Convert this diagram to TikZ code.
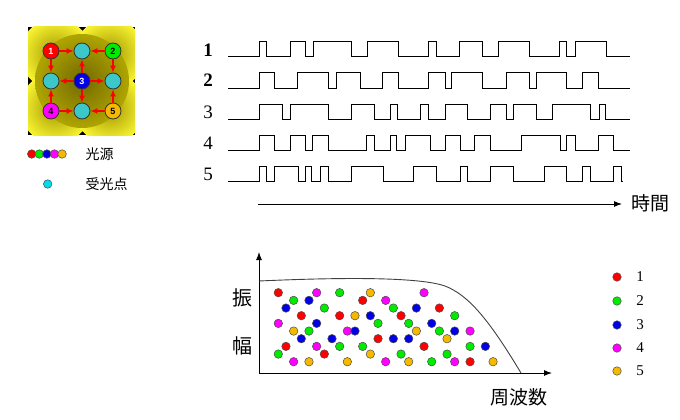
\documentclass[tikz,border=0pt]{standalone}
\usepackage{fontspec}
\setmainfont{Liberation Serif}
\setsansfont{Liberation Sans}
\newfontfamily\jpfont{Noto Sans CJK JP}
\usetikzlibrary{arrows.meta}

\definecolor{srcred}{RGB}{255,0,0}
\definecolor{srcgreen}{RGB}{0,235,0}
\definecolor{srcblue}{RGB}{0,0,230}
\definecolor{srcmagenta}{RGB}{255,0,255}
\definecolor{srcorange}{RGB}{245,185,0}
\definecolor{rcvcyan}{RGB}{60,200,200}
\definecolor{lgdcyan}{RGB}{0,220,235}
\definecolor{glowyellow}{RGB}{250,245,50}
\definecolor{glowolive}{RGB}{160,150,0}
\definecolor{diskdark}{RGB}{115,105,0}
\definecolor{diskrim}{RGB}{175,165,0}

% one pulse train: high y, low y, end x, edges
\newcommand{\pulsetrain}[4]{%
  \draw[wave] (228,#2) \foreach \x [count=\i] in {#4} { -| (\x,{isodd(\i)?#1:#2}) } -- (#3,#2);
}

\begin{document}
\begin{tikzpicture}[x=1pt,y=-1pt,
			source node/.style={circle,draw=black!80,line width=0.8pt,minimum size=16pt,inner sep=0pt,font=\sffamily\bfseries\fontsize{9}{9}\selectfont},
			sensor node/.style={circle,draw=black!80,line width=0.8pt,fill=rcvcyan,minimum size=16pt,inner sep=0pt},
			light/.style={-{Latex[length=7pt,width=6pt]},srcred,line width=1.5pt},
			dot node/.style={circle,draw=black!70,line width=0.5pt,minimum size=8.5pt,inner sep=0pt},
			wave/.style={line width=1pt},
			axis/.style={line width=1pt,-{Latex[length=8pt,width=6pt]}},
			wave label/.style={font=\fontsize{19}{19}\selectfont},
			jp/.style={font=\jpfont\fontsize{#1}{#1}\selectfont}
			]

			\useasboundingbox (0,0) rectangle (680,420);

			% lamp panel
			\begin{scope}
				\clip (28,27) rectangle (135,135);
				\fill[black] (28,27) rectangle (135,135);
				\foreach \cx/\cy in {55.5/54,109.5/54,55.5/108,109.5/108}
					\shade[inner color=glowolive,outer color=glowyellow] (\cx,\cy) circle (35.5);
				\shade[inner color=diskdark,outer color=diskrim] (82,81) circle (47);
			\end{scope}

			\node[source node,fill=srcred,text=white] (s1) at (51,51) {1};
			\node[source node,fill=srcgreen] (s2) at (113,51) {2};
			\node[source node,fill=srcblue,text=white] (s3) at (82,81) {3};
			\node[source node,fill=srcmagenta] (s4) at (51,111) {4};
			\node[source node,fill=srcorange] (s5) at (113,111) {5};
			\node[sensor node] (rt) at (82,51) {};
			\node[sensor node] (rl) at (51,81) {};
			\node[sensor node] (rr) at (113,81) {};
			\node[sensor node] (rb) at (82,111) {};

			\draw[light] (s1) -- (rt);
			\draw[light] (s1) -- (rl);
			\draw[light] (s2) -- (rt);
			\draw[light] (s2) -- (rr);
			\draw[light] (s3) -- (rt);
			\draw[light] (s3) -- (rl);
			\draw[light] (s3) -- (rr);
			\draw[light] (s3) -- (rb);
			\draw[light] (s4) -- (rl);
			\draw[light] (s4) -- (rb);
			\draw[light] (s5) -- (rr);
			\draw[light] (s5) -- (rb);

			% legend left
			\foreach \col [count=\i] in {srcred,srcgreen,srcblue,srcmagenta,srcorange}
				\node[dot node,fill=\col] (l\i) at ({24.1+7.6*\i},154) {};
			\node[jp=14,anchor=west] (srctext) at (82,154) {光源};
			\node[dot node,fill=lgdcyan] (lc) at (47.7,184) {};
			\node[jp=14,anchor=west] (rcvtext) at (82,184) {受光点};

			% pulse trains
			\node[wave label,font=\bfseries\fontsize{19}{19}\selectfont] (w1) at (208,50) {1};
			\node[wave label,font=\bfseries\fontsize{19}{19}\selectfont] (w2) at (208,80.5) {2};
			\node[wave label] (w3) at (208,112) {3};
			\node[wave label] (w4) at (208,143) {4};
			\node[wave label] (w5) at (208,174) {5};

			\pulsetrain{42}{57}{630}{259,266.7,290,305.7,313.3,351.7,367.7,398.3,428.3,436.7,459.3,482.7,498.3,529,559.3,566.7,575,606}
			\pulsetrain{73}{88}{630}{259,274.3,297.3,328.3,336,360,382.7,398.3,428.3,445,451.7,482.7,506,529,536,566.7,582.7,598.3}
			\pulsetrain{104}{119}{630}{259,282.3,290,328.3,351.7,374.3,390,397.3,420.7,428,445,467.7,490,506,513.3,536.7,552.7,590.7,599.3,605}
			\pulsetrain{135}{150}{630}{259.3,274,290,305,312.7,328.3,366.7,374,390,396.7,405,430,445,460,474.3,490,521.7,560,566.7,575,598.3,613.3}
			\pulsetrain{166}{181}{622}{259.3,266.7,274,298.3,305,311.7,320,328.3,351.7,383.3,413.3,436.7,460,467.7,490,513.3,544,566.7,582.7,590.7,613.3,621.7}

			% time axis
			\coordinate (tstart) at (258,204);
			\coordinate (tend) at (622,204);
			\draw[axis] (tstart) -- (tend);
			\node[jp=19,anchor=west] (timetext) at (628,203) {時間};

			% spectrum
			\coordinate (origin) at (259,373);
			\coordinate (ytop) at (259,252);
			\coordinate (xend) at (552,373);
			\draw[axis] (origin) -- (ytop);
			\draw[axis] (origin) -- (xend);
			\draw[black!75,line width=0.9pt] (259,281) .. controls (370,276) and (425,279) .. (445,286)
				.. controls (468,295) and (488,318) .. (521,373);

			\node[jp=20] (amp1) at (242,298) {振};
			\node[jp=20] (amp2) at (242,346) {幅};
			\node[jp=19] (freqtext) at (519,397) {周波数};

			\foreach \c/\r/\col [count=\i] in {
				0/0/srcred,5/0/srcmagenta,8/0/srcgreen,12/0/srcorange,19/0/srcmagenta,
				2/1/srcgreen,4/1/srcblue,11/1/srcred,14/1/srcmagenta,
				1/2/srcblue,6/2/srcgreen,15/2/srcgreen,18/2/srcblue,21/2/srcred,
				3/3/srcred,8/3/srcred,10/3/srcorange,12/3/srcblue,16/3/srcred,23/3/srcgreen,
				0/4/srcmagenta,5/4/srcblue,13/4/srcgreen,17/4/srcgreen,20/4/srcblue,
				2/5/srcorange,4/5/srcgreen,9/5/srcmagenta,10/5/srcblue,18/5/srcorange,21/5/srcgreen,23/5/srcblue,25/5/srcmagenta,
				3/6/srcblue,7/6/srcblue,13/6/srcred,15/6/srcblue,17/6/srcblue,22/6/srcorange,
				1/7/srcred,5/7/srcmagenta,8/7/srcgreen,11/7/srcgreen,19/7/srcred,25/7/srcgreen,27/7/srcblue,
				0/8/srcgreen,6/8/srcred,12/8/srcorange,16/8/srcgreen,22/8/srcgreen,
				2/9/srcmagenta,4/9/srcorange,9/9/srcorange,14/9/srcmagenta,17/9/srcorange,20/9/srcgreen,23/9/srcmagenta,25/9/srcred,28/9/srcorange}
				\node[dot node,fill=\col] (d\i) at ({278.3+7.67*\c},{292.7+7.67*\r}) {};

			% legend right
			\foreach \col/\y [count=\i] in {srcred/277,srcgreen/301,srcblue/325,srcmagenta/348,srcorange/371} {
				\node[dot node,fill=\col] (k\i) at (617,\y) {};
				\node[font=\fontsize{15}{15}\selectfont] (kt\i) at (640,\y) {\i};
			}
		\end{tikzpicture}
\end{document}
